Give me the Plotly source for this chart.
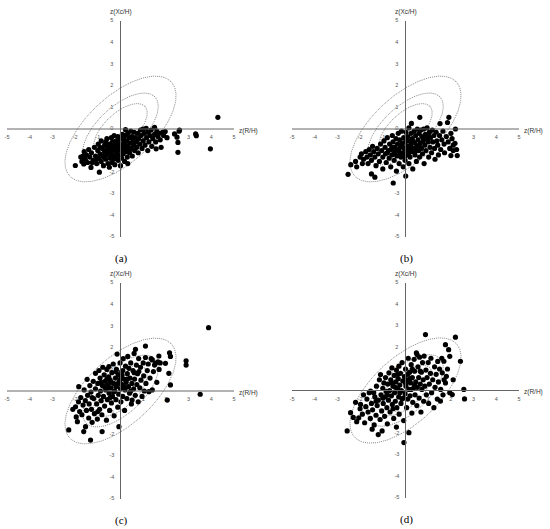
import numpy as np
import plotly.graph_objects as go

# ---------------- data (z-scores) ----------------
xa = [-1.99,-1.65,-1.6,-1.55,-1.5,-1.45,-1.4,-1.35,-1.3,-1.28,-1.2,-1.15,-1.1,-1.05,-1.0,-0.98,-0.95,-0.93,-0.9,-0.85,
      -0.85,-0.8,-0.78,-0.75,-0.7,-0.7,-0.65,-0.6,-0.6,-0.58,-0.55,-0.5,-0.5,-0.49,-0.45,-0.45,-0.4,-0.4,-0.38,-0.35,
      -0.35,-0.3,-0.3,-0.28,-0.25,-0.25,-0.2,-0.2,-0.18,-0.15,-0.12,-0.1,-0.1,-0.08,-0.05,-0.02,0.0,0.02,0.05,0.05,
      0.08,0.1,0.12,0.15,0.15,0.18,0.2,0.22,0.22,0.25,0.28,0.3,0.32,0.32,0.35,0.38,0.4,0.42,0.45,0.48,
      0.5,0.52,0.55,0.58,0.6,0.62,0.65,0.7,0.72,0.75,0.78,0.8,0.85,0.88,0.9,0.95,0.99,1.0,1.05,1.08,
      1.13,1.15,1.2,1.22,1.25,1.3,1.35,1.38,1.42,1.5,1.5,1.55,1.57,1.6,1.65,1.7,1.75,1.79,1.85,1.9,
      1.97,2.05,2.38,2.49,2.53,2.53,2.6,2.58,3.31,3.34,3.96,4.29,
      -0.65,-0.55,-0.42,-0.32,-0.22,-0.15,-0.05,0.0,0.08,0.18,0.28,-0.72,-0.62,-0.15,0.38,-1.7,-1.75,-1.62,-1.25,-1.05,-0.9]
ya = [-1.69,-1.25,-1.05,-1.4,-1.2,-1.55,-0.95,-1.3,-1.78,-1.1,-1.45,-0.85,-1.25,-1.6,-1.0,-0.7,-1.35,-2.0,-1.15,-0.55,
      -1.5,-0.9,-1.25,-1.7,-0.75,-1.05,-1.4,-0.45,-0.95,-1.2,-1.6,-0.7,-1.1,-1.77,-0.85,-1.35,-0.4,-1.0,-1.55,-0.6,
      -1.2,-0.8,-1.4,-0.3,-1.0,-1.65,-0.55,-1.25,-0.75,-1.1,-0.35,-0.9,-1.45,-0.6,-1.2,-0.8,-1.7,-0.45,-1.0,-1.35,
      -0.25,-0.7,-1.15,-0.5,-0.9,-1.5,-0.3,-0.03,-0.75,-1.05,-0.55,-1.3,-1.6,-0.2,-0.85,-0.4,-1.1,-0.65,-0.1,-0.9,
      -0.35,-1.25,-0.55,-0.75,-0.15,-1.0,-0.4,-0.6,-0.85,-0.2,-1.1,-0.45,-0.7,-0.05,-0.3,-0.9,0.0,-0.55,-0.2,-0.75,
      0.03,-0.4,-1.0,-0.15,-0.6,-0.3,-0.05,-0.8,-0.45,0.08,-0.25,-0.6,-0.92,-0.1,-0.35,-0.2,-0.5,-0.85,-0.15,-0.3,
      -0.12,-0.4,-0.23,-0.38,-0.62,-1.08,-0.05,-0.1,-0.23,-0.31,-0.92,0.54,
      -0.6,-0.85,-0.7,-0.95,-0.85,-0.65,-0.5,-0.95,-0.8,-0.6,-0.9,-1.3,-1.1,-1.35,-1.0,-1.5,-1.3,-1.62,-1.55,-1.4,-0.85]

xb = [-2.53,-2.41,-2.2,-2.15,-2.0,-1.94,-1.9,-1.85,-1.75,-1.7,-1.65,-1.6,-1.55,-1.5,-1.5,-1.45,-1.4,-1.35,-1.35,-1.3,
      -1.25,-1.2,-1.15,-1.1,-1.05,-1.0,-1.0,-0.95,-0.9,-0.88,-0.85,-0.8,-0.75,-0.72,-0.7,-0.65,-0.62,-0.6,-0.58,-0.54,
      -0.55,-0.5,-0.48,-0.45,-0.42,-0.4,-0.38,-0.35,-0.32,-0.3,-0.28,-0.25,-0.22,-0.2,-0.18,-0.15,-0.12,-0.1,-0.08,-0.05,
      -0.02,0.01,0.0,0.02,0.05,0.08,0.1,0.12,0.15,0.15,0.18,0.2,0.22,0.25,0.26,0.28,0.3,0.32,0.35,0.38,
      0.4,0.42,0.45,0.48,0.5,0.52,0.55,0.58,0.6,0.62,0.63,0.65,0.68,0.7,0.72,0.75,0.78,0.8,0.82,0.85,
      0.88,0.9,0.92,0.95,1.0,1.02,1.05,1.08,1.1,1.15,1.18,1.2,1.25,1.28,1.3,1.35,1.38,1.42,1.45,1.5,
      1.52,1.55,1.6,1.65,1.7,1.72,1.8,1.85,1.88,1.91,1.95,2.0,2.0,2.05,2.1,2.18,2.2,2.25,2.28,2.1,
      -0.6,-0.35,-0.15,0.05,0.25,0.35,-0.5,-0.25,0.6,0.45,-0.8,-0.05,0.15,0.8,1.0]
yb = [-2.1,-1.65,-1.5,-1.75,-1.3,-1.15,-1.6,-1.4,-1.05,-1.3,-1.6,-0.95,-1.2,-2.08,-1.45,-0.8,-1.05,-2.23,-1.3,-1.7,
      -0.9,-1.15,-1.5,-0.7,-1.0,-1.85,-1.3,-0.55,-0.85,-1.15,-1.55,-0.4,-1.0,-1.35,-0.7,-1.75,-0.95,-1.2,-0.3,-2.5,
      -0.6,-1.45,-0.85,-1.05,-0.45,-1.95,-1.25,-0.7,-0.2,-1.0,-1.6,-0.5,-0.85,-1.3,-0.1,-0.65,-1.1,-1.75,-0.4,-0.9,
      -1.45,-2.18,-0.6,-0.15,-1.2,-0.8,-0.35,-1.0,-1.6,0.05,-0.55,-1.3,-0.75,-0.2,0.26,-1.05,-0.45,-1.85,-0.9,-0.1,
      -0.65,-1.2,-0.3,-1.5,-0.8,0.0,-0.5,-1.0,-0.2,-1.3,0.54,-0.65,-0.05,-0.9,-0.35,-1.15,-0.55,0.0,-1.6,-0.75,
      -0.25,-1.0,-0.45,0.05,-0.6,-1.3,-0.15,-0.85,-0.4,-1.1,-0.05,-0.6,-0.3,-0.9,-1.4,-0.15,-0.55,-0.75,-1.2,-0.3,
      0.25,-0.95,-0.5,-0.1,-0.7,-1.1,-0.35,0.3,-0.6,0.54,-0.9,-0.2,-1.23,-0.45,-0.75,-0.66,0.0,-0.95,-1.23,-1.0,
      -0.85,-0.95,-0.75,-0.5,-0.9,-0.6,-1.15,-1.15,-0.75,-1.0,-1.1,-1.3,-1.1,-0.4,-0.25]

xc = [-2.28,-2.1,-1.98,-1.95,-1.9,-1.85,-1.84,-1.8,-1.75,-1.7,-1.65,-1.62,-1.6,-1.55,-1.54,-1.5,-1.47,-1.45,-1.4,-1.38,
      -1.35,-1.32,-1.3,-1.28,-1.25,-1.2,-1.18,-1.15,-1.1,-1.1,-1.05,-1.02,-1.0,-0.98,-0.95,-0.92,-0.9,-0.88,-0.85,-0.82,
      -0.81,-0.8,-0.78,-0.75,-0.72,-0.7,-0.68,-0.65,-0.62,-0.6,-0.58,-0.55,-0.52,-0.51,-0.5,-0.48,-0.45,-0.42,-0.4,-0.38,
      -0.35,-0.32,-0.3,-0.28,-0.25,-0.22,-0.2,-0.18,-0.15,-0.15,-0.12,-0.1,-0.08,-0.07,-0.05,-0.02,0.0,0.02,0.05,0.07,
      0.08,0.1,0.12,0.15,0.18,0.2,0.22,0.25,0.28,0.3,0.32,0.35,0.37,0.4,0.42,0.45,0.48,0.5,0.51,0.55,
      0.58,0.6,0.62,0.65,0.66,0.7,0.72,0.75,0.78,0.8,0.81,0.85,0.88,0.9,0.95,1.0,1.02,1.05,1.1,1.1,
      1.12,1.18,1.22,1.25,1.3,1.35,1.4,1.4,1.45,1.5,1.54,1.6,1.65,1.69,1.7,1.75,1.98,2.06,2.13,2.2,
      2.16,2.2,2.89,2.89,3.51,3.88,
      -0.6,-0.4,-0.2,-0.3,0.0,0.15,-0.7,-0.5,0.3,-0.1,-0.45,0.1,-0.85,-1.25,-1.0,0.45,-0.2,0.6]
yc = [-1.8,-0.85,-0.73,-1.2,-1.42,-0.5,0.2,-0.95,-0.3,-1.1,-0.65,-1.88,0.05,-0.45,-1.65,-0.9,0.54,-0.2,-1.25,-0.6,
      0.25,-2.27,-0.05,-0.85,-1.45,0.45,-0.35,-1.05,0.82,0.1,-0.6,-1.3,0.35,-0.2,0.95,-0.85,0.6,0.0,-0.45,-1.1,
      -1.88,0.25,1.1,-0.25,0.75,-0.7,0.45,0.05,-1.35,1.0,-0.4,0.3,0.65,1.13,-0.1,-0.9,0.5,0.15,-0.55,0.85,
      -0.25,1.25,0.35,-1.15,0.0,0.6,-0.4,1.0,1.71,0.25,-0.75,0.75,-0.15,-1.65,0.45,1.3,0.1,-0.5,0.9,0.74,
      0.3,-0.25,1.5,0.55,-0.9,0.05,1.15,0.4,-0.35,0.8,1.6,0.2,1.05,-0.1,0.6,1.3,-0.6,0.35,-0.42,0.95,
      0.1,1.74,0.55,-0.2,1.93,1.2,0.3,0.8,-0.5,1.5,0.9,0.15,1.1,0.5,-0.25,1.3,0.7,0.0,2.08,1.55,
      0.35,0.95,1.25,-0.03,0.6,1.5,1.44,0.05,0.9,1.2,1.28,0.4,1.35,1.62,1.0,1.3,1.28,-0.42,0.82,0.28,
      1.77,1.6,1.4,1.2,-0.15,2.93,
      0.55,0.4,0.2,-0.05,0.55,0.2,0.2,0.15,0.55,0.35,-0.3,0.95,0.4,-0.3,-0.95,0.0,0.9,0.85]

xd = [-2.57,-2.42,-2.3,-2.2,-2.15,-2.06,-2.0,-1.98,-1.9,-1.85,-1.8,-1.75,-1.7,-1.65,-1.6,-1.55,-1.54,-1.5,-1.47,-1.45,
      -1.4,-1.38,-1.35,-1.3,-1.28,-1.25,-1.2,-1.2,-1.15,-1.12,-1.1,-1.08,-1.05,-1.03,-1.0,-0.98,-0.95,-0.92,-0.9,-0.88,
      -0.85,-0.82,-0.8,-0.78,-0.75,-0.73,-0.7,-0.68,-0.65,-0.62,-0.6,-0.58,-0.55,-0.52,-0.5,-0.48,-0.45,-0.42,-0.4,-0.4,
      -0.38,-0.35,-0.32,-0.3,-0.29,-0.28,-0.25,-0.22,-0.2,-0.18,-0.15,-0.12,-0.1,-0.08,-0.07,-0.05,-0.02,0.0,0.02,0.05,
      0.08,0.1,0.12,0.15,0.15,0.18,0.2,0.22,0.25,0.28,0.3,0.32,0.35,0.38,0.4,0.42,0.45,0.48,0.5,0.51,
      0.52,0.55,0.58,0.6,0.62,0.65,0.68,0.7,0.72,0.75,0.78,0.8,0.82,0.85,0.88,0.9,0.92,0.95,1.0,1.02,
      1.05,1.1,1.12,1.15,1.2,1.25,1.28,1.3,1.35,1.4,1.42,1.45,1.5,1.54,1.55,1.6,1.62,1.65,1.69,1.7,
      1.76,1.76,1.8,1.85,1.9,1.95,1.95,2.06,2.1,2.2,2.42,2.57,2.6,
      -0.6,-0.45,-0.25,0.0,0.25,-0.35,0.2,-0.8,-0.15,0.4,0.65,-0.55,0.1,-1.0,-1.3,0.3]
yd = [-1.88,-1.03,-1.25,-0.55,-1.45,-1.27,-0.85,-0.65,-1.1,-0.2,-1.5,-0.75,-0.4,-1.0,-0.1,-1.3,-0.03,-0.6,-1.8,-0.9,
      -0.1,-1.6,-0.3,-1.15,0.2,-0.7,-2.05,-0.45,0.5,-1.35,0.74,-0.2,-0.95,-1.88,0.1,-0.6,0.35,-1.2,-0.3,0.6,
      -0.05,-0.8,-1.55,0.3,-0.45,0.82,0.0,-1.0,0.5,-0.25,1.05,-0.65,0.2,-1.3,0.7,-0.1,-0.5,0.4,-1.7,0.95,
      -0.8,0.1,0.55,-0.3,1.13,-1.1,0.25,0.8,-0.6,0.0,1.3,0.45,-0.35,-1.4,-2.42,0.65,-0.15,1.0,0.2,-0.8,
      0.5,-0.4,1.5,-1.96,0.05,0.85,-0.25,0.35,1.2,-1.05,0.6,-0.55,0.1,1.45,0.9,-0.2,0.4,1.75,-0.7,1.67,
      0.15,1.1,0.6,-0.35,1.55,0.3,-1.0,0.85,0.05,1.3,0.5,-0.5,1.6,0.2,2.6,0.95,-0.2,0.6,1.3,-0.6,
      0.3,0.8,1.5,-0.1,0.5,-0.8,1.1,0.15,0.75,-0.4,1.35,0.4,1.0,-0.49,0.05,1.5,0.82,-0.2,1.36,0.5,
      2.13,0.35,0.66,1.0,1.9,1.59,-0.1,-0.19,0.5,2.48,1.36,0.05,-0.39,
      0.35,0.15,-0.1,0.35,0.05,0.75,0.55,-0.2,-0.4,0.25,0.9,-0.85,0.75,-0.35,-0.5,1.0]

panel_labels = ["(a)", "(b)", "(c)", "(d)"]
x_tick_labels = [-5, -4, -3, -2, -1, 1, 2, 3, 4, 5]
y_tick_labels = [5, 4, 3, 2, 1, 0, -1, -2, -3, -4, -5]
ellipse_probs = [0.50, 0.75, 0.95]   # tolerance ellipses
ellipse_r = 0.63                     # correlation of the reference ellipses
x_title = "z(R/H)"
y_title = "z(Xc/H)"

# ---------------- layout geometry ----------------
W, H = 550, 529
# pixel positions of the -5 and +5 ends of each panel's axes
px_x = [(7, 234), (292, 519), (7, 234), (292, 519)]
px_y = [(21, 237), (21, 237), (283, 499), (283, 498)]
series = [(xa, ya), (xb, yb), (xc, yc), (xd, yd)]
PAD = 6

fig = go.Figure()
layout = dict(width=W, height=H, margin=dict(l=0, r=0, t=0, b=0, pad=0), autosize=False,
              plot_bgcolor="white", paper_bgcolor="white", showlegend=False)
shapes, annotations = [], []
TICK_FONT = dict(size=5.5, color="#555", family="Liberation Sans")
TITLE_FONT = dict(size=6.5, color="#333", family="Liberation Sans")

t = np.linspace(0, 2 * np.pi, 361)
for i, ((xs, ys), (x0, x1), (y0, y1), lab) in enumerate(zip(series, px_x, px_y, panel_labels)):
    n = "" if i == 0 else str(i + 1)
    xref, yref = "x" + n, "y" + n
    sx = (x1 - x0) / 10.0
    sy = (y1 - y0) / 10.0
    a, b = max(0, x0 - PAD), min(W, x1 + PAD)
    c_, d_ = max(0, y0 - PAD), min(H, y1 + PAD)
    xr = [-5 + (a - x0) / sx, 5 + (b - x1) / sx]
    yr = [-5 - (d_ - y1) / sy, 5 + (y0 - c_) / sy]
    layout["xaxis" + n] = dict(domain=[a / W, b / W], range=xr, visible=False, fixedrange=True)
    layout["yaxis" + n] = dict(domain=[1 - d_ / H, 1 - c_ / H], range=yr, visible=False, fixedrange=True)

    def to_paper(xv, yv, x0=x0, sx=sx, y0=y0, sy=sy):
        px = x0 + (xv + 5) * sx
        py = y0 + (5 - yv) * sy
        return px / W, 1 - py / H

    # axis lines crossing at origin
    shapes.append(dict(type="line", xref=xref, yref=yref, x0=-5, x1=5, y0=0, y1=0,
                       line=dict(color="#666", width=1)))
    shapes.append(dict(type="line", xref=xref, yref=yref, x0=0, x1=0, y0=-5, y1=5,
                       line=dict(color="#666", width=1)))

    # tick labels as text (under the points)
    fig.add_trace(go.Scatter(x=x_tick_labels, y=[-0.42] * len(x_tick_labels),
                             text=[str(v) for v in x_tick_labels], mode="text", textfont=TICK_FONT,
                             xaxis=xref, yaxis=yref, cliponaxis=False, hoverinfo="skip"))
    fig.add_trace(go.Scatter(x=[-0.38] * len(y_tick_labels), y=y_tick_labels,
                             text=[str(v) for v in y_tick_labels], mode="text", textfont=TICK_FONT,
                             xaxis=xref, yaxis=yref, cliponaxis=False, hoverinfo="skip"))

    # tolerance ellipses
    for p in ellipse_probs:
        c = np.sqrt(-2 * np.log(1 - p))
        u = c * np.sqrt(1 + ellipse_r) * np.cos(t)
        v = c * np.sqrt(1 - ellipse_r) * np.sin(t)
        fig.add_trace(go.Scatter(x=(u - v) / np.sqrt(2), y=(u + v) / np.sqrt(2), mode="lines",
                                 line=dict(color="#7a7a7a", width=0.9, dash="1px,1px"),
                                 xaxis=xref, yaxis=yref, hoverinfo="skip"))

    # data points
    fig.add_trace(go.Scatter(x=xs, y=ys, mode="markers",
                             marker=dict(color="black", size=5.2),
                             xaxis=xref, yaxis=yref, cliponaxis=False))

    tx, ty = to_paper(0, 5.42)
    annotations.append(dict(xref="paper", yref="paper", x=tx, y=ty, text=y_title, showarrow=False,
                            xanchor="center", yanchor="middle", font=TITLE_FONT))
    tx, ty = to_paper(5.12, -0.08)
    annotations.append(dict(xref="paper", yref="paper", x=tx, y=ty, text=x_title, showarrow=False,
                            xanchor="left", yanchor="middle", font=TITLE_FONT))
    tx, ty = to_paper(0.05, -6.0)
    annotations.append(dict(xref="paper", yref="paper", x=tx, y=ty, text=lab, showarrow=False,
                            xanchor="center", yanchor="middle",
                            font=dict(size=11, color="black", family="Liberation Serif")))

layout["shapes"] = shapes
layout["annotations"] = annotations
fig.update_layout(**layout)
fig.write_html("out.html", config={"displayModeBar": False, "staticPlot": True},
               post_script="document.body.style.margin='0';document.body.style.overflow='hidden';")
